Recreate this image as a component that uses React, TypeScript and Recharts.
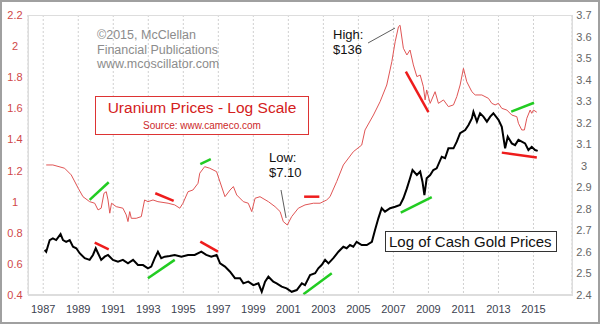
import React from "react";
import {
  LineChart,
  Line,
  XAxis,
  YAxis,
  CartesianGrid,
  ReferenceLine,
} from "recharts";

// log10 of uranium spot price (left axis)
const uraniumYears = [
  1987.17, 1987.55, 1988.22, 1988.6, 1989.0, 1989.27, 1989.65, 1989.94, 1990.13, 1990.31,
  1990.47, 1990.6, 1990.7, 1990.8, 1990.9, 1991.17, 1991.55, 1991.74, 1991.84, 1991.94,
  1992.03, 1992.31, 1992.6, 1992.79, 1992.98, 1993.27, 1993.55, 1994.13, 1994.51, 1994.8,
  1994.98, 1995.27, 1995.55, 1995.84, 1995.94, 1996.22, 1996.51, 1996.9, 1997.38, 1997.67,
  1997.86, 1998.05, 1998.43, 1998.71, 1998.91, 1999.1, 1999.38, 1999.86, 2000.24, 2000.53,
  2000.71, 2000.94, 2001.19, 2001.57, 2001.95, 2002.43, 2002.81, 2003.19, 2003.38, 2003.76,
  2004.14, 2004.71, 2005.19, 2005.38, 2005.86, 2006.24, 2006.62, 2006.91, 2007.1, 2007.29,
  2007.38, 2007.57, 2007.77, 2007.95, 2008.14, 2008.34, 2008.53, 2008.71, 2008.81, 2008.9,
  2009.1, 2009.38, 2009.57, 2009.86, 2010.14, 2010.43, 2010.62, 2010.81, 2011.0, 2011.19,
  2011.48, 2011.67, 2012.05, 2012.43, 2012.62, 2012.81, 2013.0, 2013.19, 2013.48, 2013.76,
  2014.05, 2014.14, 2014.33, 2014.48, 2014.62, 2014.81, 2014.9, 2015.0, 2015.19,
];
const uraniumLog = [
  1.236, 1.236, 1.215, 1.172, 1.086, 1.032, 1.0, 0.99, 0.947, 0.958,
  1.054, 1.064, 1.011, 0.926, 0.99, 0.968, 0.958, 0.915, 0.872, 0.936,
  0.893, 0.893, 0.904, 1.011, 1.0, 1.011, 1.0, 0.99, 0.979, 0.958,
  0.99, 1.064, 1.075, 1.118, 1.183, 1.225, 1.215, 1.193, 1.032, 1.075,
  1.097, 1.043, 1.0, 0.99, 0.936, 1.022, 1.032, 1.0, 0.968, 0.936,
  0.872, 0.85, 0.904, 0.958, 0.979, 0.99, 0.99, 1.011, 1.032, 1.129,
  1.236, 1.321, 1.364, 1.461, 1.557, 1.643, 1.75, 1.9, 2.028, 2.125,
  2.134, 1.986, 1.943, 1.975, 1.879, 1.804, 1.814, 1.739, 1.654, 1.718,
  1.632, 1.707, 1.632, 1.654, 1.611, 1.622, 1.675, 1.75, 1.857, 1.771,
  1.707, 1.686, 1.686, 1.664, 1.632, 1.622, 1.632, 1.6, 1.589, 1.557,
  1.546, 1.504, 1.461, 1.461, 1.536, 1.589, 1.568, 1.589, 1.575,
];

// log10 of cash gold price (right axis)
const goldYears = [
  1987.08, 1987.17, 1987.37, 1987.55, 1987.74, 1987.99, 1988.13, 1988.31, 1988.51, 1988.7,
  1988.89, 1989.08, 1989.37, 1989.65, 1989.84, 1990.0, 1990.13, 1990.31, 1990.51, 1990.7,
  1990.98, 1991.27, 1991.55, 1991.84, 1992.13, 1992.41, 1992.7, 1992.98, 1993.17, 1993.37,
  1993.55, 1993.74, 1993.94, 1994.22, 1994.51, 1994.89, 1995.27, 1995.65, 1996.03, 1996.31,
  1996.6, 1996.9, 1997.1, 1997.38, 1997.67, 1997.95, 1998.24, 1998.43, 1998.71, 1999.0,
  1999.29, 1999.48, 1999.67, 1999.86, 2000.14, 2000.33, 2000.62, 2000.9, 2001.19, 2001.48,
  2001.77, 2001.95, 2002.24, 2002.53, 2002.71, 2002.9, 2003.1, 2003.29, 2003.57, 2003.86,
  2004.14, 2004.33, 2004.52, 2004.71, 2004.9, 2005.19, 2005.48, 2005.77, 2005.95, 2006.14,
  2006.33, 2006.52, 2006.81, 2007.1, 2007.38, 2007.57, 2007.77, 2007.95, 2008.09, 2008.34,
  2008.53, 2008.66, 2008.77, 2008.9, 2009.1, 2009.28, 2009.47, 2009.76, 2009.95, 2010.14,
  2010.43, 2010.62, 2010.81, 2011.1, 2011.29, 2011.48, 2011.57, 2011.77, 2011.95, 2012.14,
  2012.34, 2012.53, 2012.71, 2013.0, 2013.19, 2013.38, 2013.53, 2013.76, 2013.95, 2014.14,
  2014.33, 2014.52, 2014.71, 2014.9, 2015.09, 2015.24,
];
const goldLog = [
  2.609, 2.601, 2.655, 2.663, 2.655, 2.683, 2.655, 2.647, 2.655, 2.624,
  2.617, 2.594, 2.571, 2.563, 2.586, 2.617, 2.594, 2.563, 2.578, 2.586,
  2.563, 2.555, 2.563, 2.547, 2.563, 2.539, 2.539, 2.524, 2.532, 2.571,
  2.601, 2.571, 2.578, 2.581, 2.586, 2.578, 2.586, 2.586, 2.601, 2.586,
  2.578, 2.586, 2.547, 2.532, 2.508, 2.478, 2.478, 2.454, 2.462, 2.446,
  2.454, 2.415, 2.462, 2.485, 2.462, 2.454, 2.439, 2.431, 2.415, 2.423,
  2.454, 2.446, 2.493, 2.501, 2.524, 2.539, 2.563, 2.547, 2.571, 2.601,
  2.624, 2.617, 2.632, 2.624, 2.647, 2.632, 2.632, 2.647, 2.702, 2.756,
  2.803, 2.787, 2.803, 2.81, 2.818, 2.849, 2.895, 2.942, 2.98, 2.957,
  2.973, 2.926, 2.864, 2.942, 2.957, 2.98, 2.988, 3.042, 3.035, 3.081,
  3.081, 3.112, 3.151, 3.166, 3.189, 3.22, 3.251, 3.205, 3.244, 3.228,
  3.205, 3.228, 3.244, 3.213, 3.181, 3.081, 3.135, 3.104, 3.096, 3.12,
  3.112, 3.104, 3.073, 3.088, 3.073, 3.069,
];

const xTicks = [1987, 1989, 1991, 1993, 1995, 1997, 1999, 2001, 2003, 2005, 2007, 2009, 2011, 2013, 2015];
const leftTicks = [0.4, 0.6, 0.8, 1, 1.2, 1.4, 1.6, 1.8, 2, 2.2];
const rightTicks = [2.4, 2.5, 2.6, 2.7, 2.8, 2.9, 3, 3.1, 3.2, 3.3, 3.4, 3.5, 3.6, 3.7];

// divergence trend marks: [x1, y1, x2, y2, colour, axis]
const trendMarks: [number, number, number, number, string, string][] = [
  [1989.65, 1.011, 1990.74, 1.125, "#22cc22", "left"],
  [1993.4, 1.054, 1994.45, 1.005, "#ee1c1c", "left"],
  [1995.97, 1.242, 1996.57, 1.273, "#22cc22", "left"],
  [2001.9, 1.032, 2002.77, 1.032, "#ee1c1c", "left"],
  [2007.71, 1.836, 2009.0, 1.575, "#ee1c1c", "left"],
  [2013.73, 1.579, 2015.03, 1.636, "#22cc22", "left"],
  [1989.94, 2.643, 1990.74, 2.612, "#ee1c1c", "right"],
  [1992.98, 2.478, 1994.51, 2.563, "#22cc22", "right"],
  [1995.97, 2.648, 1996.98, 2.601, "#ee1c1c", "right"],
  [2001.86, 2.403, 2003.48, 2.501, "#22cc22", "right"],
  [2007.42, 2.782, 2009.19, 2.854, "#22cc22", "right"],
  [2013.19, 3.061, 2015.19, 3.038, "#ee1c1c", "right"],
];

// pointer lines for the High / Low notes (left axis units)
const pointers: [number, number, number, number][] = [
  [2005.55, 2.02, 2007.09, 2.116],
  [2000.58, 1.075, 2000.87, 0.895],
];

const uraniumData = uraniumYears.map((year, i) => ({ year, u: uraniumLog[i] }));
const goldData = goldYears.map((year, i) => ({ year, g: goldLog[i] }));

const FONT = "'Liberation Sans', Arial, sans-serif";

const LeftTick = ({ y, payload }: any) => (
  <text x={15} y={y} dy={4} textAnchor="middle" fill="#d04848" fontSize={11} fontFamily={FONT}>
    {payload.value}
  </text>
);

const RightTick = ({ y, payload }: any) => (
  <text x={584} y={y} dy={4} textAnchor="middle" fill="#666" fontSize={11} fontFamily={FONT}>
    {payload.value}
  </text>
);

const BottomTick = ({ x, payload }: any) => (
  <text x={x} y={313} textAnchor="middle" fill="#3c4250" fontSize={11} fontFamily={FONT}>
    {payload.value}
  </text>
);

export default function App() {
  return (
    <div
      style={{
        position: "absolute",
        left: 0,
        top: 0,
        width: 600,
        height: 324,
        background: "#fff",
        fontFamily: FONT,
      }}
    >
      <LineChart width={600} height={324} margin={{ top: 15, right: 0, bottom: 0, left: 0 }}>
        <CartesianGrid
          vertical
          horizontal={false}
          stroke="#d0d0d0"
          strokeDasharray="2 2"
          yAxisId="left"
        />
        <XAxis
          dataKey="year"
          type="number"
          domain={[1986.13, 2017.2]}
          ticks={xTicks}
          interval={0}
          height={29}
          tick={<BottomTick />}
          tickLine={false}
          axisLine={{ stroke: "#bbb" }}
          allowDataOverflow
        />
        <YAxis
          yAxisId="left"
          orientation="left"
          width={28}
          domain={[0.4, 2.2]}
          ticks={leftTicks}
          interval={0}
          tick={<LeftTick />}
          tickLine={false}
          axisLine={{ stroke: "#ddd" }}
        />
        <YAxis
          yAxisId="right"
          orientation="right"
          width={28}
          domain={[2.4, 3.7]}
          ticks={rightTicks}
          interval={0}
          tick={<RightTick />}
          tickLine={false}
          axisLine={{ stroke: "#ddd" }}
        />
        <Line
          yAxisId="left"
          data={uraniumData}
          dataKey="u"
          type="linear"
          stroke="#e05555"
          strokeWidth={1}
          dot={false}
          isAnimationActive={false}
        />
        <Line
          yAxisId="right"
          data={goldData}
          dataKey="g"
          type="linear"
          stroke="#000"
          strokeWidth={2}
          dot={false}
          isAnimationActive={false}
        />
        {trendMarks.map(([x1, y1, x2, y2, c, axis], i) => (
          <ReferenceLine
            key={"t" + i}
            yAxisId={axis}
            segment={[
              { x: x1, y: y1 },
              { x: x2, y: y2 },
            ]}
            stroke={c}
            strokeWidth={2.5}
            ifOverflow="visible"
          />
        ))}
        {pointers.map(([x1, y1, x2, y2], i) => (
          <ReferenceLine
            key={"p" + i}
            yAxisId="left"
            segment={[
              { x: x1, y: y1 },
              { x: x2, y: y2 },
            ]}
            stroke="#333"
            strokeWidth={0.8}
            ifOverflow="visible"
          />
        ))}
      </LineChart>

      {/* plot frame */}
      <div
        style={{
          position: "absolute",
          left: 28,
          top: 15,
          width: 543,
          height: 279,
          border: "1px solid #ddd",
          pointerEvents: "none",
        }}
      />

      <div
        style={{
          position: "absolute",
          left: 97,
          top: 28,
          color: "#8c8c8c",
          fontSize: 12.5,
          lineHeight: "14.5px",
        }}
      >
        ©2015, McClellan
        <br />
        Financial Publications
        <br />
        www.mcoscillator.com
      </div>

      <div
        style={{
          position: "absolute",
          left: 95,
          top: 96,
          width: 212,
          height: 37,
          border: "1px solid #d33",
          background: "#fff",
          textAlign: "center",
          color: "#d42020",
        }}
      >
        <div style={{ fontSize: 15.5, lineHeight: "18px", marginTop: 2 }}>Uranium Prices - Log Scale</div>
        <div style={{ fontSize: 10, lineHeight: "14px", marginTop: 2, color: "#cc2a2a" }}>
          Source: www.cameco.com
        </div>
      </div>

      <div style={{ position: "absolute", left: 333, top: 27, fontSize: 13, lineHeight: "15px", color: "#111" }}>
        High:
        <br />
        $136
      </div>

      <div style={{ position: "absolute", left: 269, top: 150, fontSize: 13, lineHeight: "15px", color: "#111" }}>
        Low:
        <br />
        $7.10
      </div>

      <div
        style={{
          position: "absolute",
          left: 385,
          top: 231,
          width: 167,
          height: 19,
          border: "1px solid #333",
          background: "#fff",
          paddingLeft: 3,
          fontSize: 15,
          lineHeight: "19px",
          color: "#111",
        }}
      >
        Log of Cash Gold Prices
      </div>

      {/* outer frame */}
      <div
        style={{
          position: "absolute",
          left: 0,
          top: 0,
          width: 596,
          height: 320,
          border: "2px solid #a0a0a0",
          pointerEvents: "none",
        }}
      />
    </div>
  );
}
